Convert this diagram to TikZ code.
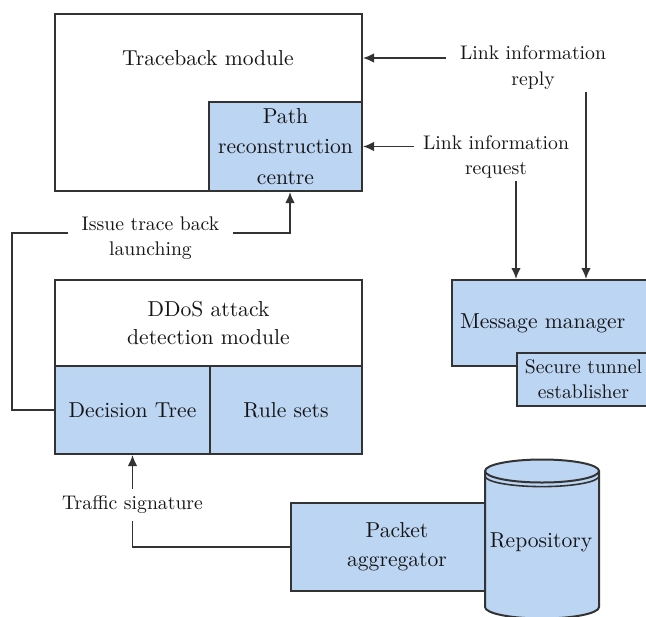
\documentclass[tikz,border=0pt]{standalone}
\usetikzlibrary{
    arrows.meta,
    positioning,
    calc
}
\definecolor{dfLine}{HTML}{333333}
\definecolor{dfFill}{HTML}{BCD5F2}
\definecolor{dfText}{HTML}{151515}
\newcommand{\dfBoxFont}{\fontsize{10.8}{14.2}\selectfont}
\newcommand{\dfLabelFont}{\fontsize{9.85}{12.8}\selectfont}
\tikzset{
    dfBox/.style={
        draw=dfLine,
        fill=white,
        line width=1pt,
        inner sep=0pt,
        align=center,
        font=\dfBoxFont,
        text=dfText
    },
    dfBlue/.style={dfBox,fill=dfFill},
    dfLabel/.style={
        align=center,
        font=\dfLabelFont,
        text=dfText,
        inner ysep=1pt
    },
    dfArrow/.style={-{Latex[length=5.5pt,width=4.8pt]},line width=0.85pt,draw=dfLine},
    dfWire/.style={line width=0.85pt,draw=dfLine}
}

\begin{document}
\begin{tikzpicture}[x=0.5pt,y=-0.5pt]
        \clip (0,0) rectangle (646,616);

        % traceback module
        \node[dfBox,minimum width=153.5pt,minimum height=88.5pt] (trace) at (208.5,102.5) {};
        \node[font=\dfBoxFont,text=dfText] (tracelbl) at (208,58) {Traceback module};
        \node[dfBlue,minimum width=76.5pt,minimum height=44.5pt,
            font={\fontsize{10.8}{15.2}\selectfont}] (path) at (285.5,146.5)
            {Path\\reconstruction\\centre};

        % DDoS attack detection module
        \node[dfBox,minimum width=153.5pt,minimum height=43pt] (ddos) at (208.5,323)
            {DDoS attack\\detection module};
        \node[dfBlue,minimum width=77.5pt,minimum height=44pt] (dtree) at (132.5,410) {Decision Tree};
        \node[dfBlue,minimum width=76pt,minimum height=44pt] (rules) at (286,410) {Rule sets};

        % message manager
        \node[dfBlue,text width=91pt,inner xsep=4pt,align=left,minimum height=43pt]
            (msg) at (551,323) {Message manager};
        \node[dfBlue,minimum width=66.5pt,minimum height=26.5pt,
            font={\fontsize{9.85}{12.5}\selectfont}] (tunnel) at (583.5,379.5)
            {Secure tunnel\\establisher};

        % packet aggregator and repository
        \node[dfBlue,minimum width=106pt,minimum height=44pt,
            font={\fontsize{10.8}{14.5}\selectfont}] (pkt) at (397,547)
            {Packet\\aggregator};
        \filldraw[draw=dfLine,fill=dfFill,line width=1pt]
            (485,471) -- (485,607)
            arc[start angle=180,end angle=360,x radius=28.5pt,y radius=5.75pt]
            -- (599,471)
            arc[start angle=0,end angle=180,x radius=28.5pt,y radius=5.75pt]
            -- cycle;
        \draw[dfLine,line width=1pt] (485,471)
            arc[start angle=180,end angle=360,x radius=28.5pt,y radius=5.75pt];
        \draw[dfLine,line width=0.8pt] (485,476)
            arc[start angle=180,end angle=360,x radius=28.5pt,y radius=5.3pt];
        \node[font=\dfBoxFont,text=dfText] (repo) at (541,542) {Repository};

        % labels
        \node[dfLabel,inner xsep=7pt] (replylbl) at (533,67.5) {Link information\\reply};
        \node[dfLabel,inner xsep=4.5pt] (reqlbl) at (496,157) {Link information\\request};
        \node[dfLabel,inner xsep=6.5pt] (issuelbl) at (150.5,238) {Issue trace back\\launching};
        \node[dfLabel,inner ysep=3.5pt] (traffic) at (132.5,505) {Traffic signature};

        % connectors
        \coordinate (replydrop) at (586,0);
        \coordinate (issuerow) at (0,233);
        \coordinate (leftrail) at (12,0);
        \draw[dfArrow] (replylbl.west |- tracelbl) -- (trace.east |- tracelbl);
        \draw[dfArrow] (reqlbl.west |- path.east) -- (path.east);
        \draw[dfArrow] (reqlbl.south -| tunnel.west) -- (tunnel.west |- msg.north);
        \draw[dfArrow] (replylbl.south -| replydrop) -- (replydrop |- msg.north);
        \draw[dfWire] (dtree.west) -- (dtree.west -| leftrail) |- (issuelbl.west |- issuerow);
        \draw[dfArrow] (issuelbl.east |- issuerow) -| ([xshift=2.25pt]path.south);
        \draw[dfWire] (pkt.west) -| (traffic.south);
        \draw[dfArrow] (traffic.north) -- (dtree.south);
    \end{tikzpicture}
\end{document}
